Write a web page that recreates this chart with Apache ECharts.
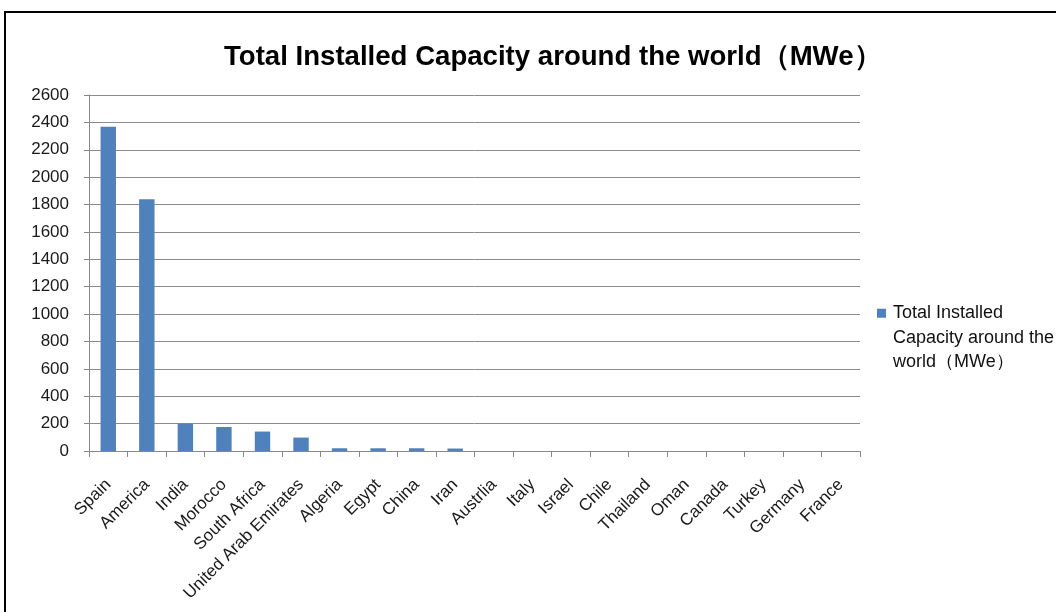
<!DOCTYPE html>
<html lang="en">

<head>
    <meta charset="UTF-8">
    <title>Total Installed Capacity around the world</title>
    <script src="https://cdn.jsdelivr.net/npm/echarts@6/dist/echarts.min.js"></script>
    <style>
        html, body { margin: 0; padding: 0; background: #fff; overflow: hidden; }
        #frame { position: absolute; left: 4px; top: 11px; width: 1200px; height: 800px; border: 2px solid #000; }
        #chart { position: absolute; left: 0; top: 0; width: 1056px; height: 612px; }
    </style>
</head>

<body>
    <div id="frame"></div>
    <div id="chart"></div>

    <script>
        // countries along the x axis (spelling kept as on the original chart)
        const countries = ['Spain', 'America', 'India', 'Morocco', 'South Africa', 'United Arab Emirates',
            'Algeria', 'Egypt', 'China', 'Iran', 'Austrlia', 'Italy', 'Israel', 'Chile', 'Thailand',
            'Oman', 'Canada', 'Turkey', 'Germany', 'France'];
        // installed capacity, MWe
        const capacity = [2368, 1838, 200, 175, 142, 98, 20, 20, 20, 18, 0, 0, 0, 0, 0, 0, 0, 0, 0, 0];
        const yTicks = { min: 0, max: 2600, step: 200 };
        const seriesName = 'Total Installed Capacity around the world（MWe）';

        function initChart() {
            let chart = echarts.init(document.getElementById('chart'), null, { renderer: 'canvas' });
            let font = '"Liberation Sans", Arial, sans-serif';
            let option = {
                animation: false,
                textStyle: { fontFamily: font },
                title: {
                    text: seriesName,
                    left: 219,
                    top: 38,
                    textStyle: { fontSize: 27.6, fontWeight: 'bold', color: '#000', fontFamily: font }
                },
                legend: {
                    orient: 'vertical',
                    left: 877,
                    top: 301,
                    padding: 0,
                    itemWidth: 9,
                    itemHeight: 58,
                    itemGap: 0,
                    // square sits level with the first text line
                    icon: 'path://M0,0L9,0L9,9L0,9Z M0,57.99L0.01,57.99L0.01,58Z',
                    formatter: () => 'Total Installed\nCapacity around the\nworld（MWe）',
                    textStyle: { fontSize: 18, lineHeight: 24.5, color: '#111', padding: [0, 0, 0, 2] },
                    data: [seriesName]
                },
                grid: { left: 89, right: 196, top: 95, bottom: 161 },
                xAxis: {
                    type: 'category',
                    data: countries,
                    axisLine: { lineStyle: { color: '#888', width: 1 } },
                    axisTick: { show: true, length: 6, lineStyle: { color: '#888' } },
                    axisLabel: { interval: 0, rotate: 45, fontSize: 17, color: '#1a1a1a', margin: 31 }
                },
                yAxis: {
                    type: 'value',
                    min: yTicks.min,
                    max: yTicks.max,
                    interval: yTicks.step,
                    axisLine: { show: true, lineStyle: { color: '#888' } },
                    axisTick: { show: true, length: 5, lineStyle: { color: '#888' } },
                    axisLabel: { fontSize: 17, color: '#1a1a1a', margin: 20, formatter: v => String(v) },
                    splitLine: { lineStyle: { color: '#8c8c8c', width: 1 } }
                },
                series: [{
                    name: seriesName,
                    type: 'bar',
                    data: capacity,
                    barWidth: '40%',
                    itemStyle: { color: '#4F81BD' }
                }]
            };
            chart.setOption(option);
        }

        window.onload = initChart;
    </script>
</body>

</html>
